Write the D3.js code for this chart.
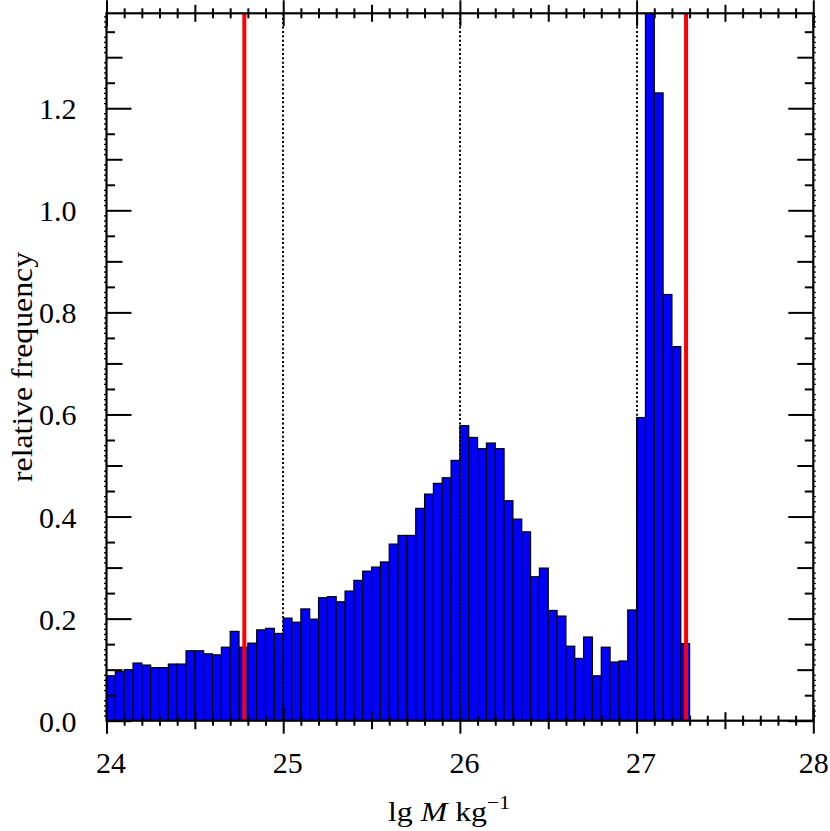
<!DOCTYPE html>
<html>
<head>
<meta charset="utf-8">
<script src="https://cdn.jsdelivr.net/npm/d3@7"></script>
<style>
  body { margin: 0; background: #fff; }
  text { font-family: "Liberation Serif", "Times New Roman", serif; }
</style>
</head>
<body>
<div id="chart"></div>
<script>
// lower edge of each bin (lg M / kg), bin width 0.05
var binLo = [24.00, 24.05, 24.10, 24.15, 24.20, 24.25, 24.30, 24.35, 24.40, 24.45,
             24.50, 24.55, 24.60, 24.65, 24.70, 24.75, 24.80, 24.85, 24.90, 24.95,
             25.00, 25.05, 25.10, 25.15, 25.20, 25.25, 25.30, 25.35, 25.40, 25.45,
             25.50, 25.55, 25.60, 25.65, 25.70, 25.75, 25.80, 25.85, 25.90, 25.95,
             26.00, 26.05, 26.10, 26.15, 26.20, 26.25, 26.30, 26.35, 26.40, 26.45,
             26.50, 26.55, 26.60, 26.65, 26.70, 26.75, 26.80, 26.85, 26.90, 26.95,
             27.00, 27.05, 27.10, 27.15, 27.20, 27.25];
var binWidth = 0.05;
// relative frequency per bin
var freq = [0.088, 0.096, 0.100, 0.113, 0.109, 0.104, 0.104, 0.111, 0.111, 0.137,
            0.137, 0.131, 0.129, 0.144, 0.175, 0.144, 0.152, 0.178, 0.181, 0.171,
            0.201, 0.193, 0.219, 0.199, 0.241, 0.243, 0.233, 0.254, 0.275, 0.293,
            0.301, 0.311, 0.346, 0.363, 0.363, 0.416, 0.444, 0.465, 0.476, 0.510,
            0.578, 0.555, 0.533, 0.544, 0.533, 0.431, 0.395, 0.370, 0.282, 0.299,
            0.216, 0.205, 0.146, 0.122, 0.164, 0.088, 0.144, 0.115, 0.117, 0.217,
            0.594, 1.520, 1.230, 0.835, 0.733, 0.151];
var redLines = [24.78, 27.28];
var dottedLines = [25, 26, 27];
var xLabels = [24, 25, 26, 27, 28];
var yLabels = [0.0, 0.2, 0.4, 0.6, 0.8, 1.0, 1.2];

var W = 830, H = 831;
var margin = {left: 106.5, right: 16.7, top: 13.3, bottom: 110.3};
var pw = W - margin.left - margin.right, ph = H - margin.top - margin.bottom;

var svg = d3.select("#chart").append("svg")
    .attr("width", W).attr("height", H);
var g = svg.append("g").attr("transform", "translate(" + margin.left + "," + margin.top + ")");

var x = d3.scaleLinear().domain([24, 28]).range([0, pw]);
var y = d3.scaleLinear().domain([0, 1.386]).range([ph, 0]);

svg.append("defs").append("clipPath").attr("id", "plotclip")
    .append("rect").attr("width", pw).attr("height", ph);

var plot = g.append("g").attr("clip-path", "url(#plotclip)");

// bars
plot.selectAll("rect.bar")
    .data(freq)
    .enter()
    .append("rect")
    .attr("class", "bar")
    .attr("x", function(d, i){ return x(binLo[i]); })
    .attr("width", function(d, i){ return x(binLo[i] + binWidth) - x(binLo[i]); })
    .attr("y", function(d){ return y(d); })
    .attr("height", function(d){ return y(0) - y(d); })
    .attr("fill", "#0000ff")
    .attr("stroke", "black")
    .attr("stroke-width", 1.2);

// dotted reference lines (snapped to whole pixels so the dots stay crisp)
plot.selectAll("line.dot")
    .data(dottedLines)
    .enter()
    .append("line")
    .attr("x1", function(d){ return Math.round(x(d) + margin.left) - margin.left; })
    .attr("x2", function(d){ return Math.round(x(d) + margin.left) - margin.left; })
    .attr("y1", 0).attr("y2", ph)
    .attr("stroke", "black")
    .attr("stroke-width", 2)
    .attr("stroke-dasharray", "2,2.4");

// red lines
plot.selectAll("line.red")
    .data(redLines)
    .enter()
    .append("line")
    .attr("x1", function(d){ return x(d); })
    .attr("x2", function(d){ return x(d); })
    .attr("y1", 0).attr("y2", ph)
    .attr("stroke", "#ff0000")
    .attr("stroke-width", 4);

// tick sets
var xTickVals = d3.range(0, 41).map(function(i){ return 24 + i / 10; });
function xLen(v){
    var k = Math.round(v * 10);
    if (k % 10 == 0) return 13;
    if (k % 5 == 0) return 8.5;
    return 5;
}
var yTickVals = d3.range(0, 139).map(function(i){ return i / 100; });
function yLen(v){
    var k = Math.round(v * 100);
    if (k % 20 == 0) return 25;
    if (k % 10 == 0) return 16;
    if (k % 5 == 0) return 8.5;
    return 0;
}

var bottomAxis = g.append("g").attr("transform", "translate(0," + ph + ")")
    .call(d3.axisBottom(x).tickValues(xTickVals).tickFormat(""));
bottomAxis.selectAll(".tick line").attr("y1", function(d){ return -xLen(d); }).attr("y2", function(d){ return xLen(d); });

var topAxis = g.append("g")
    .call(d3.axisTop(x).tickValues(xTickVals).tickFormat(""));
topAxis.selectAll(".tick line").attr("y1", function(d){ return -xLen(d); }).attr("y2", function(d){ return xLen(d); });

var leftAxis = g.append("g")
    .call(d3.axisLeft(y).tickValues(yTickVals).tickFormat(""));
leftAxis.selectAll(".tick line")
    .attr("x1", function(d){ return yLen(d) == 0 ? -2.5 : 0; })
    .attr("x2", function(d){ return yLen(d) == 0 ? 0 : yLen(d); });

var rightAxis = g.append("g").attr("transform", "translate(" + pw + ",0)")
    .call(d3.axisRight(y).tickValues(yTickVals).tickFormat(""));
rightAxis.selectAll(".tick line")
    .attr("x1", function(d){ return yLen(d) == 0 ? 0 : -yLen(d); })
    .attr("x2", function(d){ return yLen(d) == 0 ? 2.5 : 0; });

g.selectAll(".domain").remove();
g.selectAll(".tick line")
    .attr("stroke", "black")
    .attr("stroke-width", 2);
leftAxis.selectAll(".tick line").attr("stroke-width", function(d){ return yLen(d) == 0 ? 1.3 : 2; });
rightAxis.selectAll(".tick line").attr("stroke-width", function(d){ return yLen(d) == 0 ? 1.3 : 2; });

// frame
g.append("rect")
    .attr("width", pw).attr("height", ph)
    .attr("fill", "none")
    .attr("stroke", "black")
    .attr("stroke-width", 2.2);

// tick labels
var xl = g.append("g").attr("transform", "translate(0," + ph + ")")
    .call(d3.axisBottom(x).tickValues(xLabels).tickSize(0).tickPadding(0).tickFormat(d3.format("d")));
xl.select(".domain").remove();
xl.selectAll("text")
    .attr("dy", null)
    .attr("dx", function(d){ return d == 28 ? 0 : 4; })
    .attr("y", 52)
    .attr("font-size", "30px")
    .attr("font-family", "Liberation Serif, Times New Roman, serif")
    .attr("fill", "black");

var yl = g.append("g")
    .call(d3.axisLeft(y).tickValues(yLabels).tickSize(0).tickPadding(0).tickFormat(d3.format(".1f")));
yl.select(".domain").remove();
yl.selectAll("text")
    .attr("x", -30)
    .attr("dy", "0.35em")
    .attr("font-size", "30px")
    .attr("font-family", "Liberation Serif, Times New Roman, serif")
    .attr("fill", "black");

// axis titles
var xt = svg.append("text")
    .attr("x", 449).attr("y", 821)
    .attr("text-anchor", "middle")
    .attr("font-size", "28px")
    .attr("textLength", 122)
    .attr("lengthAdjust", "spacingAndGlyphs")
    .attr("fill", "black");
xt.append("tspan").text("lg ");
xt.append("tspan").attr("font-style", "italic").text("M");
xt.append("tspan").text(" kg");
xt.append("tspan").attr("dy", -12).attr("font-size", "19px").text("\u22121");

svg.append("text")
    .attr("transform", "translate(32," + (margin.top + ph / 2) + ") rotate(-90)")
    .attr("text-anchor", "middle")
    .attr("font-size", "29px")
    .attr("textLength", 230)
    .attr("lengthAdjust", "spacingAndGlyphs")
    .attr("fill", "black")
    .text("relative frequency");
</script>
</body>
</html>
